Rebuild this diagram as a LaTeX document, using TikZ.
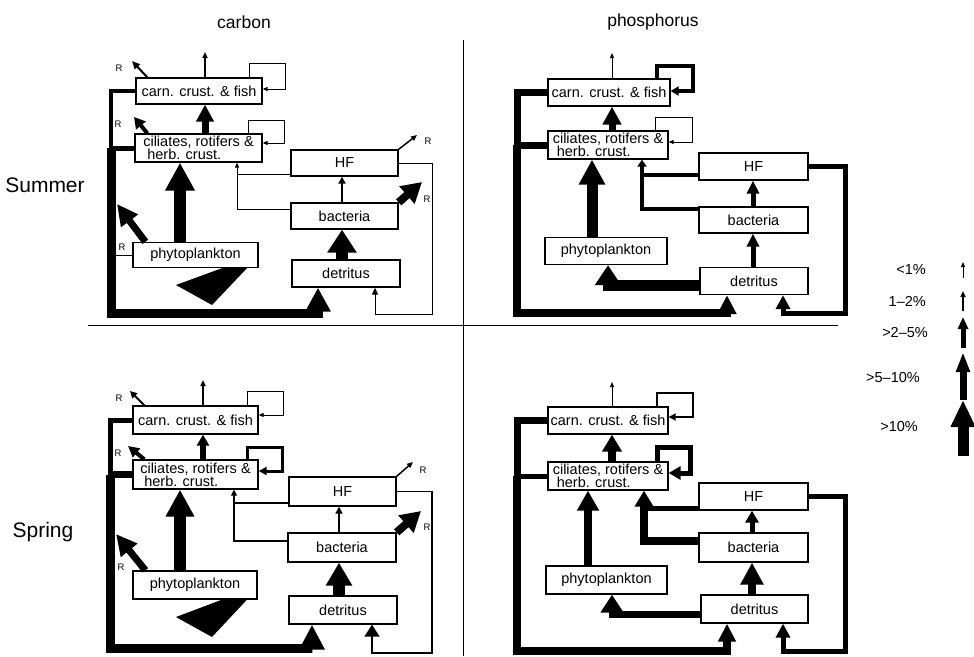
\documentclass[tikz,border=0pt]{standalone}
\usepackage{fontspec}
\setmainfont{Liberation Sans}
\usetikzlibrary{arrows.meta}
\begin{document}
\begin{tikzpicture}[x=1pt,y=-1pt,
  bx/.style={draw, line width=1.3pt, fill=white, inner sep=0pt, align=center, font=\fontsize{14.5}{13}\selectfont},
  lab/.style={font=\fontsize{9.5}{9.5}\selectfont, inner sep=0pt},
  ttl/.style={font=\fontsize{17.5}{18}\selectfont, inner sep=0pt},
  sea/.style={font=\fontsize{21}{22}\selectfont, inner sep=0pt},
  leg/.style={font=\fontsize{14.5}{15}\selectfont, inner sep=0pt, anchor=east},
  hd/.style 2 args={-{Triangle[length=#1,width=#2]}}]
\useasboundingbox (0,0) rectangle (974,656);

% titles and dividers
\node[ttl] (t-c) at (244,22) {carbon};
\node[ttl] (t-p) at (653,22) {phosphorus};
\node[sea] (s-su) at (45,185) {Summer};
\node[sea] (s-sp) at (43,532) {Spring};
\coordinate (dv1) at (463,40); \coordinate (dv2) at (463,656);
\coordinate (dh1) at (88,325); \coordinate (dh2) at (838,325);
\draw[line width=1pt] (dv1) -- (dv2);
\draw[line width=1pt] (dh1) -- (dh2);

%================ Summer carbon
\node[bx, minimum width=126pt, minimum height=26pt] (sc-carn) at (199,91) {carn. crust. \& fish};
\node[bx, align=left, minimum width=127pt, minimum height=28pt] (sc-cil) at (198.5,148) {ciliates, rotifers \&\\\hspace*{4pt}herb. crust.};
\node[bx, minimum width=107pt, minimum height=26pt] (sc-hf) at (344.5,163) {HF};
\node[bx, minimum width=107pt, minimum height=26pt] (sc-bac) at (344.5,216) {bacteria};
\node[bx, minimum width=108pt, minimum height=27pt] (sc-det) at (346,273.5) {detritus};
\node[bx, minimum width=125pt, minimum height=25pt] (sc-phy) at (195.5,255) {phytoplankton};

\coordinate (sc-x1) at (205,52);
\draw[line width=1.5pt, hd={6pt}{5pt}] (sc-carn.north -| sc-x1) -- (sc-x1);
\coordinate (sc-r1) at (132,61);
\draw[line width=2pt, hd={8pt}{7pt}] ([xshift=12pt]sc-carn.north west) -- (sc-r1);
\node[lab] (sc-rl1) at (119,68) {R};
\draw[line width=1pt, hd={5pt}{4pt}] (sc-carn.north -| 249,0) |- (285,63) |- (sc-carn.east |- 0,89);
\draw[line width=7pt, hd={17pt}{17pt}] (sc-cil.north -| sc-x1) -- (sc-carn.south -| sc-x1);
\coordinate (sc-r2) at (134,117);
\draw[line width=4pt, hd={11pt}{12pt}] ([xshift=13pt]sc-cil.north west) -- (sc-r2);
\node[lab] (sc-rl2) at (118,124) {R};
\draw[line width=1pt, hd={5pt}{4pt}] (sc-cil.north -| 248,0) |- (284,120) |- (sc-cil.east |- 0,143);
\coordinate (sc-b1) at (111,0);
\draw[line width=4.5pt] (sc-carn.west) -| (sc-cil.west -| sc-b1);
\draw[line width=5pt] (sc-cil.west) -- (sc-cil.west -| sc-b1);
\draw[line width=9pt, hd={24pt}{24pt}] (sc-cil.west -| sc-b1) |- (318,313) -- (sc-det.south -| 318,0);
\draw[line width=1pt] (sc-phy.west) -- (sc-phy.west -| sc-b1);
\coordinate (sc-x2) at (180,0);
\draw[line width=12pt, hd={28pt}{28pt}] (sc-phy.north -| sc-x2) -- (sc-cil.south -| sc-x2);
\coordinate (sc-r3) at (117,204);
\draw[line width=7pt, hd={21pt}{20pt}] ([xshift=13pt]sc-phy.north west) -- (sc-r3);
\node[lab] (sc-rl3) at (122,247) {R};
\fill (sc-phy.south -| 222,0) -- (176,285) -- (212,305) -- (sc-phy.south -| 247,0) -- cycle;
\coordinate (sc-x3) at (237,0);
\draw[line width=1pt, hd={5pt}{4pt}] (sc-bac.west |- 0,209) -| (sc-cil.south -| sc-x3);
\draw[line width=1pt] (sc-hf.west |- 0,174) -- (237,174);
\coordinate (sc-r4) at (417,135);
\draw[line width=1.5pt, hd={6pt}{5pt}] (sc-hf.north east) -- (sc-r4);
\node[lab] (sc-rl4) at (428,141) {R};
\draw[line width=1pt, hd={7pt}{6pt}] (sc-hf.east) -| (432,314) -| (sc-det.south -| 375,0);
\coordinate (sc-r5) at (422,182);
\draw[line width=8pt, hd={20pt}{22pt}] (sc-bac.north east) -- (sc-r5);
\node[lab] (sc-rl5) at (427,199) {R};
\coordinate (sc-x4) at (342,0);
\draw[line width=2.5pt, hd={7pt}{7pt}] (sc-bac.north -| sc-x4) -- (sc-hf.south -| sc-x4);
\draw[line width=12pt, hd={23pt}{28pt}] (sc-det.north -| sc-x4) -- (sc-bac.south -| sc-x4);

%================ Summer phosphorus
\node[bx, minimum width=122pt, minimum height=27pt] (sp-carn) at (609,92.5) {carn. crust. \& fish};
\node[bx, align=left, minimum width=120pt, minimum height=28pt] (sp-cil) at (608,145) {ciliates, rotifers \&\\\hspace*{4pt}herb. crust.};
\node[bx, minimum width=109pt, minimum height=27pt] (sp-hf) at (753.5,166.5) {HF};
\node[bx, minimum width=109pt, minimum height=26pt] (sp-bac) at (753.5,220) {bacteria};
\node[bx, minimum width=108pt, minimum height=27pt] (sp-det) at (754,281) {detritus};
\node[bx, minimum width=122pt, minimum height=27pt] (sp-phy) at (606,251) {phytoplankton};

\coordinate (sp-x1) at (612,53);
\draw[line width=1pt, hd={5pt}{4pt}] (sp-carn.north -| sp-x1) -- (sp-x1);
\draw[line width=3.5pt, hd={8pt}{9pt}] (sp-carn.north -| 657,0) |- (693,66) |- (sp-carn.east |- 0,91);
\draw[line width=7pt, hd={18pt}{18pt}] (sp-cil.north -| sp-x1) -- (sp-carn.south -| sp-x1);
\draw[line width=1pt, hd={5pt}{4pt}] (sp-cil.north -| 655,0) |- (692,117) |- (sp-cil.east |- 0,142);
\coordinate (sp-b1) at (517,0);
\draw[line width=7pt] (sp-carn.west) -| (sp-cil.west -| sp-b1);
\draw[line width=7pt] (sp-cil.west) -- (sp-cil.west -| sp-b1);
\draw[line width=8pt, hd={19pt}{18pt}] (sp-cil.west -| sp-b1) |- (727,313) -- (sp-det.south -| 727,0);
\coordinate (sp-x2) at (592,0);
\draw[line width=11pt, hd={25pt}{25pt}] (sp-phy.north -| sp-x2) -- (sp-cil.south -| sp-x2);
\coordinate (sp-x3) at (642,0);
\draw[line width=4pt, hd={7pt}{9pt}] (sp-bac.west |- 0,209) -| (sp-cil.south -| sp-x3);
\draw[line width=3.5pt] (sp-hf.west |- 0,175) -- (642,175);
\coordinate (sp-x4) at (753,0);
\draw[line width=5pt, hd={13pt}{12pt}] (sp-bac.north -| sp-x4) -- (sp-hf.south -| sp-x4);
\draw[line width=5pt, hd={13pt}{12pt}] (sp-det.north -| sp-x4) -- (sp-bac.south -| sp-x4);
\draw[line width=11pt, hd={20pt}{25pt}] (sp-det.west |- 0,285) -| (sp-phy.south -| 608,0);
\draw[line width=5pt, hd={14pt}{14pt}] (sp-hf.east) -| (845,313) -| (sp-det.south -| 783,0);

%================ Spring carbon
\node[bx, minimum width=125pt, minimum height=28pt] (cc-carn) at (195.5,420) {carn. crust. \& fish};
\node[bx, align=left, minimum width=125pt, minimum height=29pt] (cc-cil) at (195.5,474.5) {ciliates, rotifers \&\\\hspace*{4pt}herb. crust.};
\node[bx, minimum width=107pt, minimum height=29pt] (cc-hf) at (342.5,491.5) {HF};
\node[bx, minimum width=108pt, minimum height=29pt] (cc-bac) at (342,547.5) {bacteria};
\node[bx, minimum width=108pt, minimum height=28pt] (cc-det) at (343,610) {detritus};
\node[bx, minimum width=124pt, minimum height=28pt] (cc-phy) at (195,585) {phytoplankton};

\coordinate (cc-x1) at (203,380);
\draw[line width=1.5pt, hd={6pt}{5pt}] (cc-carn.north -| cc-x1) -- (cc-x1);
\coordinate (cc-r1) at (130,391);
\draw[line width=2pt, hd={7pt}{7pt}] ([xshift=12pt]cc-carn.north west) -- (cc-r1);
\node[lab] (cc-rl1) at (119,398) {R};
\draw[line width=1pt, hd={5pt}{4pt}] (cc-carn.north -| 247,0) |- (283,391) |- (cc-carn.east |- 0,415);
\draw[line width=6pt, hd={11pt}{12pt}] (cc-cil.north -| cc-x1) -- (cc-carn.south -| cc-x1);
\coordinate (cc-r2) at (128,446);
\draw[line width=4pt, hd={11pt}{11pt}] ([xshift=12pt]cc-cil.north west) -- (cc-r2);
\node[lab] (cc-rl2) at (118,453) {R};
\draw[line width=3pt, hd={8pt}{8pt}] (cc-cil.north -| 247,0) |- (282,447) |- (cc-cil.east |- 0,471);
\coordinate (cc-b1) at (110,0);
\draw[line width=5pt] (cc-carn.west) -| (cc-cil.west -| cc-b1);
\draw[line width=7pt] (cc-cil.west) -- (cc-cil.west -| cc-b1);
\draw[line width=9pt, hd={25pt}{24pt}] (cc-cil.west -| cc-b1) |- (312,648) -- (cc-det.south -| 312,0);
\coordinate (cc-x2) at (180,0);
\draw[line width=12pt, hd={27pt}{27pt}] (cc-phy.north -| cc-x2) -- (cc-cil.south -| cc-x2);
\coordinate (cc-r3) at (116,534);
\draw[line width=7pt, hd={21pt}{20pt}] ([xshift=13pt]cc-phy.north west) -- (cc-r3);
\node[lab] (cc-rl3) at (121,567) {R};
\fill (cc-phy.south -| 222,0) -- (176,617) -- (212,637) -- (cc-phy.south -| 247,0) -- cycle;
\coordinate (cc-x3) at (234,0);
\draw[line width=1.5pt, hd={6pt}{6pt}] (cc-bac.west |- 0,541) -| (cc-cil.south -| cc-x3);
\draw[line width=2pt] (cc-hf.west |- 0,503) -- (234,503);
\coordinate (cc-r4) at (413,462);
\draw[line width=1.5pt, hd={6pt}{5pt}] (cc-hf.north east) -- (cc-r4);
\node[lab] (cc-rl4) at (423,470) {R};
\draw[line width=1.5pt, hd={12pt}{15pt}] (cc-hf.east) -| (432,653) -| (cc-det.south -| 372,0);
\coordinate (cc-r5) at (421,511);
\draw[line width=8pt, hd={20pt}{22pt}] (cc-bac.north east) -- (cc-r5);
\node[lab] (cc-rl5) at (427,527) {R};
\coordinate (cc-x4) at (339,0);
\draw[line width=2.5pt, hd={7pt}{7pt}] (cc-bac.north -| cc-x4) -- (cc-hf.south -| cc-x4);
\draw[line width=12pt, hd={23pt}{25pt}] (cc-det.north -| cc-x4) -- (cc-bac.south -| cc-x4);

%================ Spring phosphorus
\node[bx, minimum width=120pt, minimum height=27pt] (cp-carn) at (608,420.5) {carn. crust. \& fish};
\node[bx, align=left, minimum width=120pt, minimum height=28pt] (cp-cil) at (608,476) {ciliates, rotifers \&\\\hspace*{4pt}herb. crust.};
\node[bx, minimum width=109pt, minimum height=27pt] (cp-hf) at (753.5,496.5) {HF};
\node[bx, minimum width=109pt, minimum height=29pt] (cp-bac) at (753.5,547.5) {bacteria};
\node[bx, minimum width=107pt, minimum height=28pt] (cp-det) at (754.5,609) {detritus};
\node[bx, minimum width=121pt, minimum height=28pt] (cp-phy) at (606.5,580) {phytoplankton};

\coordinate (cp-x1) at (612,382);
\draw[line width=1pt, hd={5pt}{4pt}] (cp-carn.north -| cp-x1) -- (cp-x1);
\draw[line width=2pt, hd={7pt}{7pt}] (cp-carn.north -| 657,0) |- (693,393) |- (cp-carn.east |- 0,417);
\draw[line width=8pt, hd={17pt}{19pt}] (cp-cil.north -| cp-x1) -- (cp-carn.south -| cp-x1);
\draw[line width=5pt, hd={12pt}{13pt}] (cp-cil.north -| 657,0) |- (690,447) |- (cp-cil.east |- 0,473);
\coordinate (cp-b1) at (517,0);
\draw[line width=7pt] (cp-carn.west) -| (cp-cil.west -| cp-b1);
\draw[line width=5pt] (cp-cil.west) -- (cp-cil.west -| cp-b1);
\draw[line width=8pt, hd={18pt}{17pt}] (cp-cil.west -| cp-b1) |- (727,651) -- (cp-det.south -| 727,0);
\coordinate (cp-x2) at (588,0);
\draw[line width=8pt, hd={20pt}{21pt}] (cp-phy.north -| cp-x2) -- (cp-cil.south -| cp-x2);
\coordinate (cp-x3) at (644,0);
\draw[line width=8pt, hd={16pt}{18pt}] (cp-bac.west |- 0,541) -| (cp-cil.south -| cp-x3);
\draw[line width=5pt] (cp-hf.west |- 0,508) -- (644,508);
\coordinate (cp-x4) at (752,0);
\draw[line width=5pt, hd={12pt}{13pt}] (cp-bac.north -| cp-x4) -- (cp-hf.south -| cp-x4);
\draw[line width=8pt, hd={22pt}{22pt}] (cp-det.north -| cp-x4) -- (cp-bac.south -| cp-x4);
\draw[line width=7pt, hd={18pt}{22pt}] (cp-det.west |- 0,614) -| (cp-phy.south -| 612,0);
\draw[line width=5pt, hd={14pt}{14pt}] (cp-hf.east) -| (845,651) -| (cp-det.south -| 783,0);

%================ Legend
\node[leg] (l1) at (926,270) {<1\%};
\node[leg] (l2) at (926,301) {1–2\%};
\node[leg] (l3) at (928,333) {>2–5\%};
\node[leg] (l4) at (920,378) {>5–10\%};
\node[leg] (l5) at (918,427) {>10\%};
\coordinate (l1a) at (963,278); \coordinate (l1b) at (963,262);
\coordinate (l2a) at (963,311); \coordinate (l2b) at (963,291);
\coordinate (l3a) at (963,348); \coordinate (l3b) at (963,317);
\coordinate (l4a) at (963,400); \coordinate (l4b) at (963,352);
\coordinate (l5a) at (963,456); \coordinate (l5b) at (963,400);
\draw[line width=1pt, hd={5pt}{4pt}] (l1a) -- (l1b);
\draw[line width=1.8pt, hd={6pt}{5pt}] (l2a) -- (l2b);
\draw[line width=5pt, hd={12pt}{10pt}] (l3a) -- (l3b);
\draw[line width=7pt, hd={20pt}{13pt}] (l4a) -- (l4b);
\draw[line width=11pt, hd={27pt}{23pt}] (l5a) -- (l5b);
\end{tikzpicture}
\end{document}
